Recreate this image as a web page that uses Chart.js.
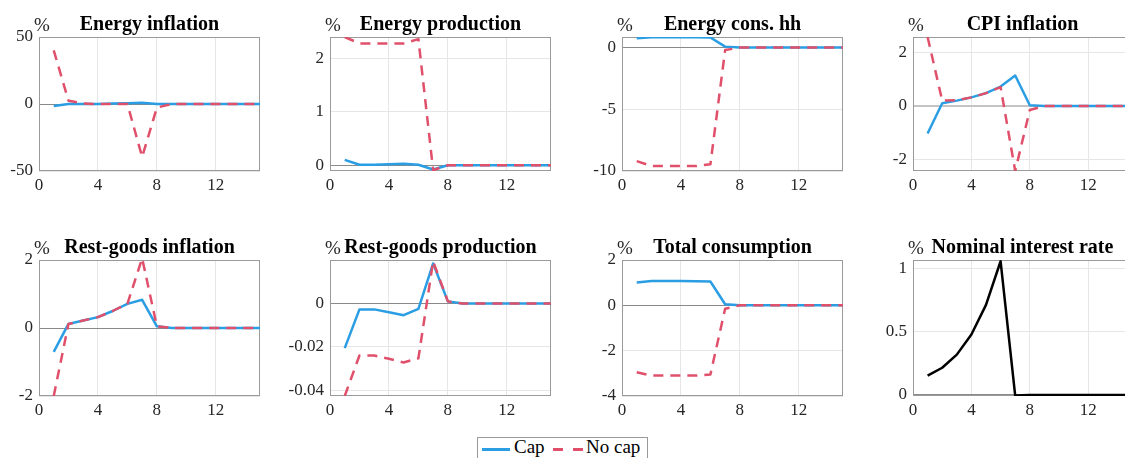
<!DOCTYPE html>
<html><head><meta charset="utf-8">
<script src="https://cdn.jsdelivr.net/npm/chart.js@4.4.1/dist/chart.umd.min.js"></script>
<style>
html,body{margin:0;padding:0;background:#fff;width:1125px;height:458px;overflow:hidden;position:relative;font-family:'Liberation Serif',serif;}
canvas{position:absolute;}
#legend{position:absolute;left:477px;top:437px;width:169px;height:40px;border:1px solid #999;background:#fff;}
.lg{position:absolute;}
.lt{position:absolute;font-size:19px;line-height:19px;color:#000;white-space:nowrap;}
</style></head><body>
<div id="legend"></div>
<div class="lg" style="left:482px;top:448px;width:28px;height:2.5px;background:#2b9de3"></div>
<div class="lt" style="left:514px;top:437px">Cap</div>
<div class="lg" style="left:553px;top:448px;width:10px;height:2.5px;background:#e0506b"></div>
<div class="lg" style="left:573px;top:448px;width:10px;height:2.5px;background:#e0506b"></div>
<div class="lt" style="left:586px;top:437px">No cap</div>
<script>
// ---- data ----
const periods = [1,2,3,4,5,6,7,8,9,10,11,12,13,14,15];
const xTicks = [0,4,8,12];

const energyInflCap   = [-1.5, 0, 0, 0, 0.3, 0.6, 1.0, 0, 0, 0, 0, 0, 0, 0, 0];
const energyInflNoCap = [40, 2.5, 0.3, 0, 0, 0, -39.5, -2.7, 0, 0, 0, 0, 0, 0, 0];
const energyInflTicks = [-50, 0, 50];

const energyProdCap   = [0.1, 0.01, 0.01, 0.02, 0.03, 0.01, -0.08, 0, 0, 0, 0, 0, 0, 0, 0];
const energyProdNoCap = [2.4, 2.28, 2.28, 2.28, 2.28, 2.36, -0.09, 0, 0, 0, 0, 0, 0, 0, 0];
const energyProdTicks = [0, 1, 2];

const energyConsCap   = [0.76, 0.84, 0.84, 0.84, 0.84, 0.82, 0.08, 0, 0, 0, 0, 0, 0, 0, 0];
const energyConsNoCap = [-9.2, -9.6, -9.6, -9.6, -9.6, -9.46, -0.2, 0, 0, 0, 0, 0, 0, 0, 0];
const energyConsTicks = [-10, -5, 0];

const cpiCap   = [-1.02, 0.1, 0.2, 0.32, 0.48, 0.72, 1.13, 0.03, 0, 0, 0, 0, 0, 0, 0];
const cpiNoCap = [2.56, 0.2, 0.22, 0.32, 0.48, 0.7, -2.41, -0.15, 0, 0, 0, 0, 0, 0, 0];
const cpiTicks = [-2, 0, 2];

const restInflCap   = [-0.7, 0.12, 0.22, 0.32, 0.5, 0.71, 0.83, 0.05, 0, 0, 0, 0, 0, 0, 0];
const restInflNoCap = [-2.0, 0.12, 0.22, 0.32, 0.5, 0.71, 2.05, 0.05, 0, 0, 0, 0, 0, 0, 0];
const restInflTicks = [-2, 0, 2];

const restProdCap   = [-0.0206, -0.0027, -0.0027, -0.004, -0.0054, -0.0025, 0.0185, 0.001, 0, 0, 0, 0, 0, 0, 0];
const restProdNoCap = [-0.0427, -0.024, -0.024, -0.0255, -0.0272, -0.0253, 0.0195, 0.001, 0, 0, 0, 0, 0, 0, 0];
const restProdTicks = [-0.04, -0.02, 0];

const totalConsCap   = [1.01, 1.07, 1.07, 1.07, 1.06, 1.05, 0.05, 0, 0, 0, 0, 0, 0, 0, 0];
const totalConsNoCap = [-2.95, -3.1, -3.1, -3.1, -3.1, -3.05, -0.15, 0, 0, 0, 0, 0, 0, 0, 0];
const totalConsTicks = [-4, -2, 0, 2];

const rateVals  = [0.154, 0.216, 0.32, 0.48, 0.714, 1.06, -0.005, 0, 0, 0, 0, 0, 0, 0, 0];
const rateTicks = [0, 0.5, 1];

const titles = ['Energy inflation','Energy production','Energy cons. hh','CPI inflation',
                'Rest-goods inflation','Rest-goods production','Total consumption','Nominal interest rate'];

// ---- layout / style ----
const BLUE = '#2b9de3', RED = '#e0506b';
const colLeft = [39, 330, 622, 913];
const colW = [221, 221, 221, 219];
const rowTop = [37, 260];
const rowH = [134, 136];
const L = 50, T = 40, R = 8, B = 30;

const panels = [
  {t:titles[0], cap:energyInflCap, no:energyInflNoCap, ticks:energyInflTicks, min:-50, max:50, c:0, r:0},
  {t:titles[1], cap:energyProdCap, no:energyProdNoCap, ticks:energyProdTicks, min:-0.107, max:2.4, c:1, r:0},
  {t:titles[2], cap:energyConsCap, no:energyConsNoCap, ticks:energyConsTicks, min:-10, max:0.86, c:2, r:0},
  {t:titles[3], cap:cpiCap, no:cpiNoCap, ticks:cpiTicks, min:-2.41, max:2.56, c:3, r:0, zc:'#c4c4c4', zw:2},
  {t:titles[4], cap:restInflCap, no:restInflNoCap, ticks:restInflTicks, min:-2, max:2, c:0, r:1},
  {t:titles[5], cap:restProdCap, no:restProdNoCap, ticks:restProdTicks, min:-0.0427, max:0.0201, c:1, r:1},
  {t:titles[6], cap:totalConsCap, no:totalConsNoCap, ticks:totalConsTicks, min:-4, max:2, c:2, r:1},
  {t:titles[7], single:rateVals, ticks:rateTicks, min:-0.008, max:1.07, c:3, r:1}
];

const toXY = vals => periods.map((p,i)=>({x:p, y:vals[i]}));

const decor = {
  id:'decor',
  beforeDatasetsDraw(chart){
    const {ctx, chartArea:a} = chart;
    ctx.save();
    ctx.strokeStyle = '#9a9a9a'; ctx.lineWidth = 1;
    ctx.strokeRect(Math.round(a.left)+0.5, Math.round(a.top)+0.5, Math.round(a.right-a.left)-1, Math.round(a.bottom-a.top)-1);
    ctx.restore();
  },
  afterDraw(chart){
    const {ctx, chartArea:a} = chart;
    const title = chart.options.plugins.decor.title;
    ctx.save();
    ctx.fillStyle = '#000';
    ctx.textBaseline = 'alphabetic';
    ctx.textAlign = 'center';
    ctx.font = 'bold 20px "Liberation Serif"';
    ctx.fillText(title, (a.left + a.right)/2, a.top - 7);
    ctx.font = '19px "Liberation Serif"';
    ctx.fillStyle = '#262626';
    ctx.fillText('%', a.left + 3, a.top - 6);
    ctx.restore();
  }
};

panels.forEach(p => {
  const cv = document.createElement('canvas');
  const w = colW[p.c] + L + R, h = rowH[p.r] + T + B;
  cv.width = w; cv.height = h;
  cv.style.left = (colLeft[p.c] - L) + 'px';
  cv.style.top = (rowTop[p.r] - T) + 'px';
  cv.style.width = w + 'px'; cv.style.height = h + 'px';
  document.body.appendChild(cv);

  const common = {pointRadius:0, borderWidth:2.5, tension:0, fill:false, borderJoinStyle:'round'};
  const datasets = p.single
    ? [{...common, label:'Rate', data:toXY(p.single), borderColor:'#000', backgroundColor:'#000'}]
    : [{...common, label:'No cap', data:toXY(p.no), borderColor:RED, backgroundColor:RED, borderDash:[10,7], order:0},
       {...common, label:'Cap', data:toXY(p.cap), borderColor:BLUE, backgroundColor:BLUE, order:1}];

  const zc = p.zc || '#8a8a8a', zw = p.zw || 1;
  new Chart(cv, {
    type:'line',
    data:{datasets},
    plugins:[decor],
    options:{
      responsive:false, animation:false, events:[],
      layout:{padding:{top:T, right:R, left:0, bottom:0}},
      plugins:{legend:{display:false}, tooltip:{enabled:false}, title:{display:false}, decor:{title:p.t}},
      scales:{
        x:{type:'linear', min:0, max:15,
           afterBuildTicks: ax => { ax.ticks = xTicks.map(v=>({value:v})); },
           afterFit: ax => { ax.height = B; },
           ticks:{autoSkip:false, maxRotation:0, padding:4, color:'#262626', font:{family:'Liberation Serif', size:17}},
           grid:{color:'#e6e6e6', lineWidth:1, drawTicks:false},
           border:{display:false}},
        y:{type:'linear', min:p.min, max:p.max,
           afterBuildTicks: ax => { ax.ticks = p.ticks.map(v=>({value:v})); },
           afterFit: ax => { ax.width = L; },
           ticks:{autoSkip:false, padding:6, color:'#262626', font:{family:'Liberation Serif', size:17},
                  callback: v => String(v)},
           grid:{color: c => (c.tick && c.tick.value === 0) ? zc : '#e6e6e6',
                 lineWidth: c => (c.tick && c.tick.value === 0) ? zw : 1, drawTicks:false},
           border:{display:false}}
      }
    }
  });
});
</script>
</body></html>
